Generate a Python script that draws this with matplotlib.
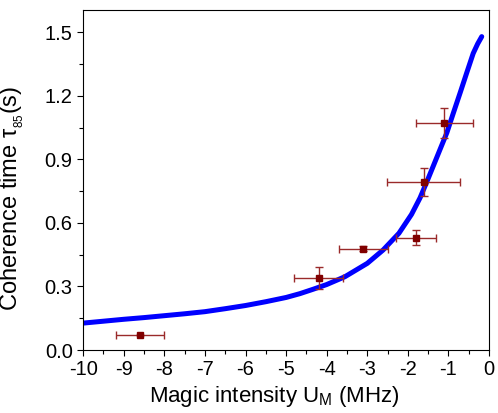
import matplotlib
matplotlib.use("Agg")
import matplotlib.pyplot as plt
from matplotlib.ticker import MultipleLocator

plt.rcParams['font.family'] = ['Liberation Sans', 'DejaVu Sans']
plt.rcParams['mathtext.fontset'] = 'custom'
plt.rcParams['mathtext.rm'] = 'Liberation Sans'
plt.rcParams['mathtext.it'] = 'Liberation Sans:italic'
plt.rcParams['mathtext.default'] = 'regular'

# Measured data
data_x = [-8.6, -4.2, -3.1, -1.8, -1.61, -1.1]
data_y = [0.071, 0.34, 0.478, 0.530, 0.792, 1.070]
data_xerr = [0.6, 0.6, 0.6, 0.5, 0.9, 0.7]
data_yerr = [0.0, 0.05, 0.012, 0.035, 0.065, 0.07]

# Fit curve
fit_x = [-10.0, -9.5, -9.0, -8.5, -8.0, -7.5, -7.0, -6.5, -6.0, -5.5, -5.0,
         -4.66, -4.33, -4.0, -3.55, -3.0, -2.61, -2.22, -1.91, -1.70, -1.53,
         -1.37, -1.20, -1.04, -0.88, -0.71, -0.55, -0.39, -0.28, -0.18]
fit_y = [0.127, 0.136, 0.145, 0.153, 0.162, 0.171, 0.181, 0.195, 0.210, 0.228, 0.248,
         0.266, 0.287, 0.309, 0.346, 0.409, 0.472, 0.551, 0.640, 0.718, 0.795,
         0.870, 0.950, 1.025, 1.118, 1.215, 1.308, 1.400, 1.445, 1.479]

xlim = (-10, 0)
ylim = (0, 1.605)
xticks = [-10, -9, -8, -7, -6, -5, -4, -3, -2, -1, 0]
yticks = [0.0, 0.3, 0.6, 0.9, 1.2, 1.5]

fig = plt.figure(figsize=(4.98, 4.13), dpi=100)
ax = fig.add_axes([0.167, 0.1525, 0.815, 0.8235])

ax.plot(fit_x, fit_y, color='#0000FF', lw=3.6, solid_capstyle='round',
        solid_joinstyle='round', zorder=2)
ax.errorbar(data_x, data_y, xerr=data_xerr, yerr=data_yerr, fmt='none',
            ecolor='#9a2a2a', elinewidth=1.0, capsize=3, capthick=1.0, zorder=3)
ax.plot(data_x, data_y, 's', color='#800000', markersize=5, zorder=4)

ax.set_xlim(*xlim)
ax.set_ylim(*ylim)
ax.set_xticks(xticks)
ax.set_xticklabels([str(t) for t in xticks])
ax.set_yticks(yticks)
ax.set_yticklabels([f"{t:.1f}" for t in yticks])
ax.xaxis.set_minor_locator(MultipleLocator(0.5))
ax.yaxis.set_minor_locator(MultipleLocator(0.15))
ax.tick_params(which='major', direction='out', length=4.5, width=0.8, labelsize=14.5, pad=3)
ax.tick_params(which='minor', direction='out', length=3, width=0.8)
for s in ax.spines.values():
    s.set_linewidth(0.8)

ax.set_xlabel('Magic intensity U$_{M}$ (MHz)', fontsize=16)
ax.set_ylabel('Coherence time τ$_{_{85}}$(s)', fontsize=17)
ax.xaxis.set_label_coords(0.471, -0.1, transform=ax.transAxes)
ax.xaxis.label.set_va('top')
ax.yaxis.set_label_coords(-0.14, 0.445)

fig.savefig('out.png', dpi=100)
